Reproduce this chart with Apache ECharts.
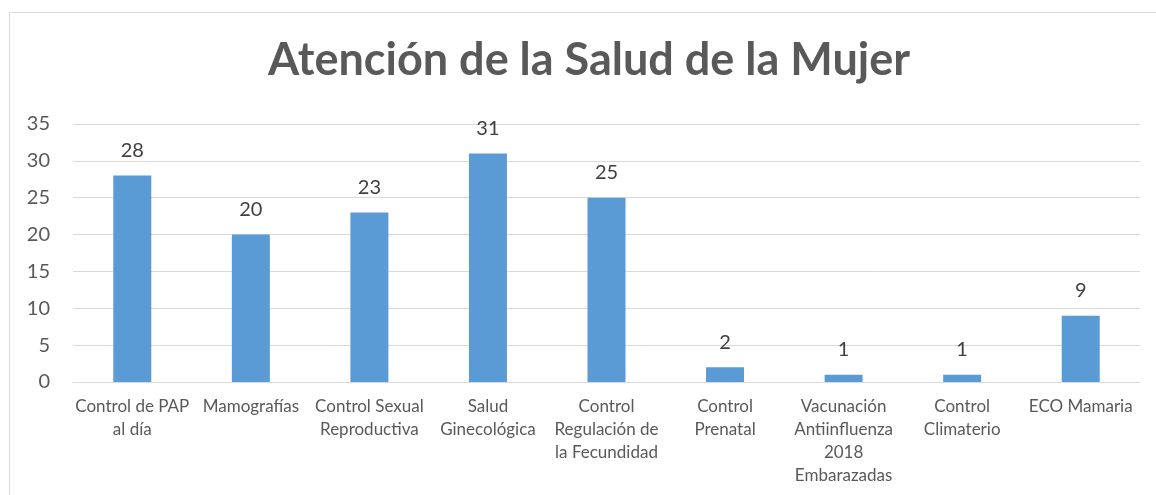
<!DOCTYPE html>
<html>
<head>
<meta charset="utf-8">
<script src="https://cdn.jsdelivr.net/npm/echarts@6/dist/echarts.min.js"></script>
<style>
  html, body { margin: 0; padding: 0; background: #fff; }
  #chart { width: 1156px; height: 495px; }
</style>
</head>
<body>
<div id="chart"></div>
<script>
// categorías y valores
var categorias = [
    'Control de PAP\nal día',
    'Mamografías',
    'Control Sexual\nReproductiva',
    'Salud\nGinecológica',
    'Control\nRegulación de\nla Fecundidad',
    'Control\nPrenatal',
    'Vacunación\nAntiinfluenza\n2018\nEmbarazadas',
    'Control\nClimaterio',
    'ECO Mamaria'
];
var valores = [28, 20, 23, 31, 25, 2, 1, 1, 9];
var ticksY = [0, 5, 10, 15, 20, 25, 30, 35];

var fuente = 'Lato';
var chart = echarts.init(document.getElementById('chart'));
var option = {
    backgroundColor: '#fff',
    animation: false,
    title: {
        text: 'Atención de la Salud de la Mujer',
        left: 268,
        top: 38,
        padding: 0,
        textStyle: {
            fontFamily: fuente,
            fontSize: 45,
            fontWeight: 'bold',
            color: '#595959'
        }
    },
    // marco del gráfico
    graphic: [{
        type: 'rect',
        shape: { x: 9.5, y: 12.5, width: 1200, height: 600 },
        style: { fill: 'none', stroke: '#d9d9d9', lineWidth: 1 },
        silent: true
    }],
    grid: {
        left: 73,
        right: 16,
        top: 124,
        bottom: 113
    },
    xAxis: {
        type: 'category',
        data: categorias,
        axisLine: { lineStyle: { color: '#d9d9d9', width: 1 } },
        axisTick: { show: false },
        axisLabel: {
            interval: 0,
            margin: 13,
            fontFamily: fuente,
            fontSize: 17,
            lineHeight: 23,
            color: '#595959'
        }
    },
    yAxis: {
        type: 'value',
        min: 0,
        max: 35,
        interval: 5,
        axisLine: { show: false },
        axisTick: { show: false },
        splitLine: { lineStyle: { color: '#d9d9d9', width: 1 } },
        axisLabel: {
            margin: 23,
            fontFamily: fuente,
            fontSize: 20,
            color: '#595959',
            formatter: function (v) { return ticksY.indexOf(v) >= 0 ? String(v) : ''; }
        }
    },
    series: [{
        type: 'bar',
        data: valores,
        barWidth: 38,
        itemStyle: { color: '#5b9bd5' },
        label: {
            show: true,
            position: 'top',
            distance: 15,
            fontFamily: fuente,
            fontSize: 20,
            color: '#404040'
        }
    }]
};
chart.setOption(option);
</script>
</body>
</html>
